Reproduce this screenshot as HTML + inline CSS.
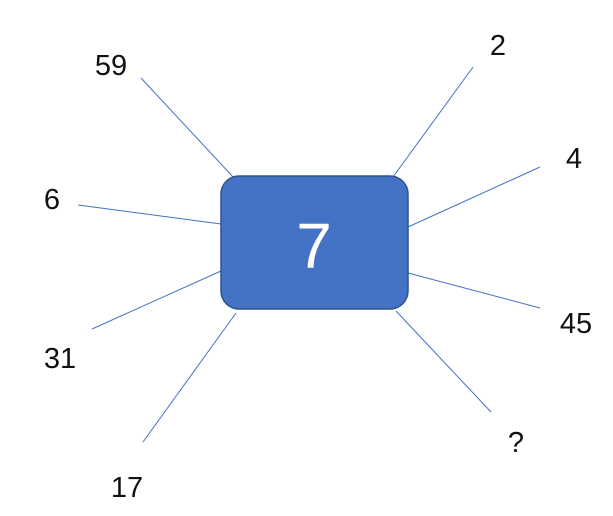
<!DOCTYPE html>
<html><head><meta charset="utf-8"><style>
html,body{margin:0;padding:0;background:#fff;}
svg{display:block;}
text{font-family:"Liberation Sans",Arial,sans-serif;}
</style></head><body>
<svg id="chart" width="613" height="516" viewBox="0 0 613 516">
  <g id="spokes"></g>
  <rect x="221" y="176" width="187" height="133" rx="18" ry="18" fill="#4472C4" stroke="#2F528F" stroke-width="1.5"/>
  <text x="314" y="268" text-anchor="middle" font-size="64" fill="#fff">7</text>
  <g id="labels"></g>
</svg>
<script>
const labels = ["59","2","4","45","?","17","31","6"];
const lineStarts = [[234,178],[393,177],[408,227],[408,273],[396,311],[236,313],[221,271],[221,224]];
const lineEnds = [[141,78],[473,67],[540,167],[540,308],[491,412],[143,442],[92,329],[78,205]];
const labelPos = [[111,75],[498,55],[574,168],[576,333],[516,452],[127,497],[60,368],[52,209]];
const NS="http://www.w3.org/2000/svg";
const sp=document.getElementById('spokes'), lb=document.getElementById('labels');
labels.forEach((t,i)=>{
  const l=document.createElementNS(NS,'line');
  l.setAttribute('x1',lineStarts[i][0]);l.setAttribute('y1',lineStarts[i][1]);
  l.setAttribute('x2',lineEnds[i][0]);l.setAttribute('y2',lineEnds[i][1]);
  l.setAttribute('stroke','#4472C4');l.setAttribute('stroke-width','1');
  
  
  sp.appendChild(l);
  const tx=document.createElementNS(NS,'text');
  tx.setAttribute('x',labelPos[i][0]);tx.setAttribute('y',labelPos[i][1]);
  tx.setAttribute('text-anchor','middle');tx.setAttribute('font-size','29');tx.setAttribute('fill','#111');
  tx.textContent=t;
  
  
  lb.appendChild(tx);
});
</script>
</body></html>
